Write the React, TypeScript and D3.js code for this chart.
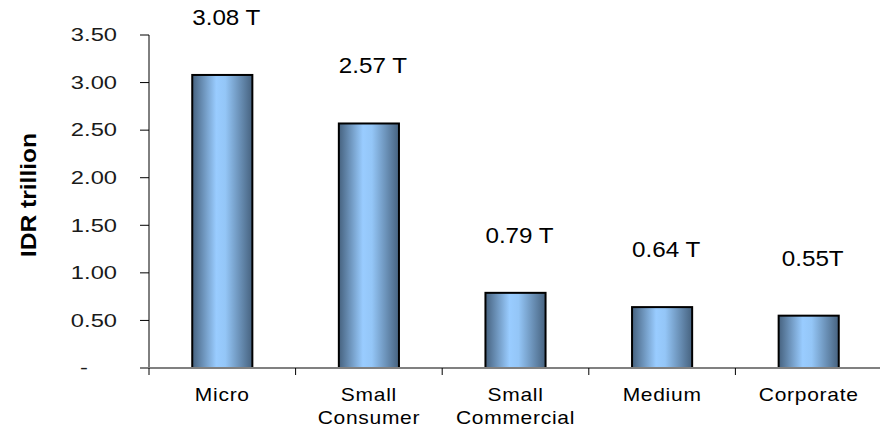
import React from "react";
import * as d3 from "d3";

const categories = ["Micro", "Small Consumer", "Small Commercial", "Medium", "Corporate"];
const categoryLines = [["Micro"], ["Small", "Consumer"], ["Small", "Commercial"], ["Medium"], ["Corporate"]];
const values = [3.08, 2.57, 0.79, 0.64, 0.55];
const valueLabels = ["3.08 T", "2.57 T", "0.79 T", "0.64 T", "0.55T"];
const yTicks = [0, 0.5, 1, 1.5, 2, 2.5, 3, 3.5];
const yTickLabels = ["-", "0.50", "1.00", "1.50", "2.00", "2.50", "3.00", "3.50"];
const yTitle = "IDR trillion";

const W = 880;
const H = 430;
const FONT = "'Liberation Sans', Arial, sans-serif";

export default function App() {
  const x = d3.scaleBand<string>().domain(categories).range([149, 882]).paddingInner(0.59).paddingOuter(0.295);
  const y = d3.scaleLinear().domain([0, 3.5]).range([368, 35]);
  const step = x.step();
  const x0 = x.range()[0];

  return (
    <svg width={W} height={H} style={{ position: "absolute", left: 0, top: 0, background: "#fff" }}>
      <defs>
        <linearGradient id="barGrad" x1="0" x2="1" y1="0" y2="0">
          <stop offset="0%" stopColor="#46627f" />
          <stop offset="40%" stopColor="#99ccff" />
          <stop offset="55%" stopColor="#94c6f7" />
          <stop offset="100%" stopColor="#46627f" />
        </linearGradient>
      </defs>

      {/* y-axis title */}
      <text
        transform={`translate(36, 195) rotate(-90) scale(1.2, 1.1)`}
        textAnchor="middle"
        fontFamily={FONT}
        fontWeight="bold"
        fontSize={20.5}
        fill="#000"
      >
        {yTitle}
      </text>

      {/* y ticks and labels */}
      {yTicks.map((t, i) => (
        <g key={i}>
          <line x1={140} x2={149} y1={y(t)} y2={y(t)} stroke="#000" strokeWidth={1} />
          <text
            transform={`translate(${t === 0 ? 88 : 117}, ${y(t) + 6.3}) scale(1.34, 1)`}
            textAnchor="end"
            fontFamily={FONT}
            fontSize={17.7}
            fill="#1a1a1a"
          >
            {yTickLabels[i]}
          </text>
        </g>
      ))}

      {/* bars */}
      {categories.map((c, i) => (
        <rect
          key={c}
          x={x(c)}
          y={y(values[i])}
          width={x.bandwidth()}
          height={y(0) - y(values[i])}
          fill="url(#barGrad)"
          stroke="#000"
          strokeWidth={2}
        />
      ))}

      {/* axes */}
      <line x1={149} x2={149} y1={y(3.5)} y2={y(0)} stroke="#000" strokeWidth={1} />
      <line x1={140} x2={W} y1={y(0)} y2={y(0)} stroke="#808080" strokeWidth={2} />
      {categories.map((c, i) => (
        <line key={c} x1={x0 + i * step} x2={x0 + i * step} y1={y(0)} y2={y(0) + 7} stroke="#000" strokeWidth={1} />
      ))}

      {/* value labels */}
      {categories.map((c, i) => (
        <text
          key={c}
          transform={`translate(${(x(c) as number) + x.bandwidth() / 2 + 4}, ${y(values[i]) - 50}) scale(1.1, 1)`}
          textAnchor="middle"
          fontFamily={FONT}
          fontSize={22}
          fill="#000"
        >
          {valueLabels[i]}
        </text>
      ))}

      {/* category labels */}
      {categories.map((c, i) => (
        <g key={c}>
          {categoryLines[i].map((line, j) => (
            <text
              key={j}
              transform={`translate(${(x(c) as number) + x.bandwidth() / 2}, ${401 + j * 23}) scale(1.2, 1)`}
              textAnchor="middle"
              fontFamily={FONT}
              fontSize={17.5}
              letterSpacing={0.6}
              fill="#000"
            >
              {line}
            </text>
          ))}
        </g>
      ))}
    </svg>
  );
}
